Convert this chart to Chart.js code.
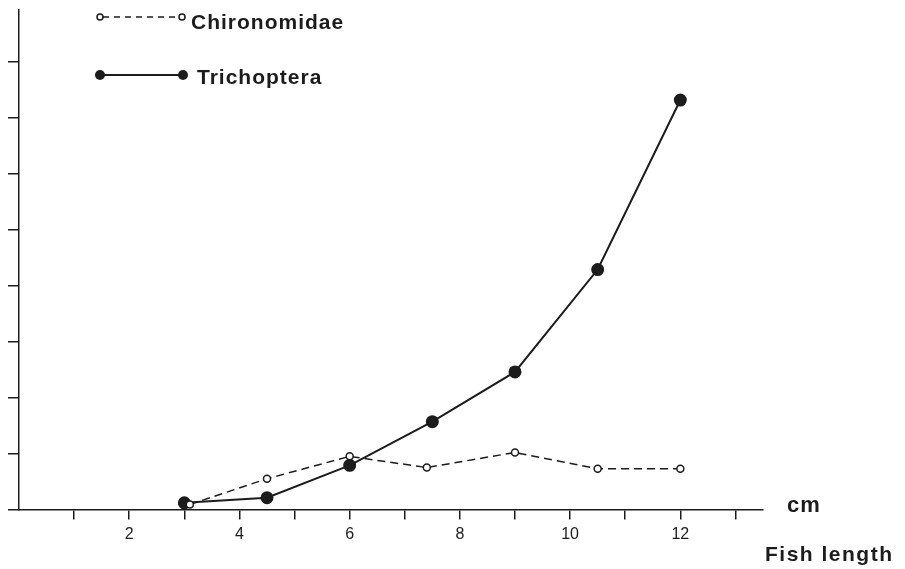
<!DOCTYPE html>
<html>
<head>
<meta charset="utf-8">
<script src="https://cdn.jsdelivr.net/npm/chart.js@4"></script>
<style>
  html, body { margin: 0; padding: 0; background: #fff; }
  #wrap { width: 905px; height: 569px; }
</style>
</head>
<body>
<div id="wrap"><canvas id="chart" width="905" height="569"></canvas></div>
<script>
// fish length (cm) and values
const chiroX = [3.1, 4.5, 6, 7.4, 9, 10.5, 12];
const chiroY = [0.09, 0.55, 0.95, 0.75, 1.02, 0.73, 0.73];
const trichX = [3, 4.5, 6, 7.5, 9, 10.5, 12];
const trichY = [0.12, 0.21, 0.79, 1.57, 2.46, 4.29, 7.32];
const xTickLabels = [2, 4, 6, 8, 10, 12];

const ink = '#1c1c1c';
const txtFont = '"Liberation Sans", Arial, sans-serif';

const pts = (xs, ys) => xs.map((x, i) => ({ x: x, y: ys[i] }));

// white page + hand drawn legend and axis captions
const extras = {
  id: 'extras',
  beforeDraw(chart) {
    const c = chart.ctx;
    c.save();
    c.fillStyle = '#fff';
    c.fillRect(0, 0, chart.width, chart.height);
    c.restore();
  },
  afterDraw(chart) {
    const c = chart.ctx;
    c.save();
    c.strokeStyle = ink;
    c.fillStyle = ink;

    // Chironomidae key
    c.lineWidth = 1.5;
    c.setLineDash([6, 5]);
    c.beginPath(); c.moveTo(103, 17); c.lineTo(179, 17); c.stroke();
    c.setLineDash([]);
    [100, 182].forEach(x => {
      c.beginPath(); c.arc(x, 17, 3, 0, Math.PI * 2);
      c.fillStyle = '#fff'; c.fill(); c.stroke();
    });
    // Trichoptera key
    c.lineWidth = 2;
    c.beginPath(); c.moveTo(100, 75); c.lineTo(183, 75); c.stroke();
    c.fillStyle = ink;
    [100, 183].forEach(x => {
      c.beginPath(); c.arc(x, 75, 5, 0, Math.PI * 2); c.fill();
    });

    c.textBaseline = 'alphabetic';
    c.font = 'bold 21px ' + txtFont;
    c.letterSpacing = '1px';
    c.fillText('Chironomidae', 191, 29);
    c.fillText('Trichoptera', 197, 84);
    c.letterSpacing = '1.5px';
    c.fillText('Fish length', 765, 561);
    c.font = 'bold 22px ' + txtFont;
    c.letterSpacing = '1px';
    c.fillText('cm', 787, 512);
    c.restore();
  }
};

new Chart(document.getElementById('chart'), {
  type: 'scatter',
  data: {
    datasets: [
      {
        label: 'Chironomidae',
        data: pts(chiroX, chiroY),
        showLine: true,
        borderColor: ink,
        borderWidth: 1.5,
        borderDash: [8, 5],
        pointRadius: 3.5,
        pointBorderWidth: 1.5,
        pointBackgroundColor: '#fff',
        pointBorderColor: ink
      },
      {
        label: 'Trichoptera',
        data: pts(trichX, trichY),
        showLine: true,
        borderColor: ink,
        borderWidth: 2,
        pointRadius: 5.5,
        pointBackgroundColor: ink,
        pointBorderColor: ink
      }
    ]
  },
  options: {
    responsive: false,
    animation: false,
    layout: { padding: { top: 10, right: 142, left: 0, bottom: 0 } },
    plugins: { legend: { display: false }, tooltip: { enabled: false } },
    scales: {
      x: {
        type: 'linear',
        min: 0,
        max: 13.5,
        afterFit(s) { s.height = 59.5; },
        border: { display: true, color: ink, width: 1.5 },
        grid: {
          drawOnChartArea: false,
          tickLength: 10,
          lineWidth: 1.5,
          tickColor: ctx => (ctx.tick && ctx.tick.value === 0) ? 'rgba(0,0,0,0)' : ink
        },
        ticks: {
          stepSize: 1,
          includeBounds: false,
          maxRotation: 0,
          autoSkip: false,
          padding: 5,
          color: ink,
          font: { family: txtFont, size: 16 },
          callback: v => xTickLabels.includes(v) ? String(v) : ''
        }
      },
      y: {
        min: 0,
        max: 8.93,
        afterFit(s) { s.width = 19; },
        border: { display: true, color: ink, width: 1.5 },
        grid: { drawOnChartArea: false, tickLength: 11, lineWidth: 1.5, tickColor: ink },
        ticks: { display: false, stepSize: 1, includeBounds: false }
      }
    }
  },
  plugins: [extras]
});
</script>
</body>
</html>
